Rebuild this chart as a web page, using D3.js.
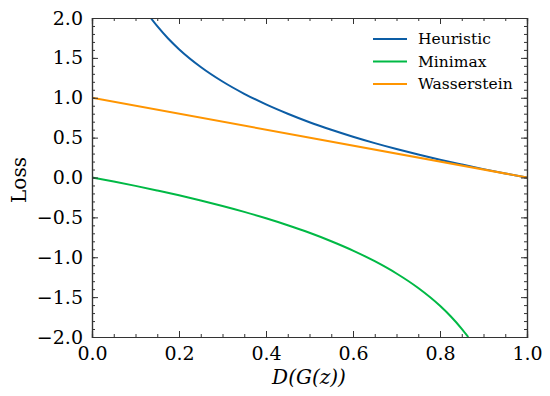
<!DOCTYPE html>
<html>
<head>
<meta charset="utf-8">
<script src="https://cdn.jsdelivr.net/npm/d3@7"></script>
<style>
  body { margin: 0; background: #fff; }
  text { font-family: "DejaVu Serif", serif; fill: #000; }
</style>
</head>
<body>
<div id="chart"></div>
<script>
// values
var heurX = [0.135, 0.15, 0.175, 0.2, 0.25, 0.3, 0.35, 0.4, 0.45, 0.5, 0.55, 0.6, 0.65, 0.7, 0.75, 0.8, 0.85, 0.9, 0.95, 1.0];
var heurY = [2.0, 1.897, 1.743, 1.609, 1.386, 1.204, 1.050, 0.916, 0.799, 0.693, 0.598, 0.511, 0.431, 0.357, 0.288, 0.223, 0.163, 0.105, 0.051, 0.0];
var miniX = [0.0, 0.05, 0.1, 0.15, 0.2, 0.25, 0.3, 0.35, 0.4, 0.45, 0.5, 0.55, 0.6, 0.65, 0.7, 0.75, 0.8, 0.825, 0.85, 0.865];
var miniY = [0.0, -0.051, -0.105, -0.163, -0.223, -0.288, -0.357, -0.431, -0.511, -0.598, -0.693, -0.799, -0.916, -1.050, -1.204, -1.386, -1.609, -1.743, -1.897, -2.0];
var wassX = [0.0, 1.0];
var wassY = [1.0, 0.0];
var xTicks = [0.0, 0.2, 0.4, 0.6, 0.8, 1.0];
var yTicks = [-2.0, -1.5, -1.0, -0.5, 0.0, 0.5, 1.0, 1.5, 2.0];
var seriesNames = ["Heuristic", "Minimax", "Wasserstein"];
var seriesColors = ["#0C5DA5", "#00B945", "#FF9500"];

var W = 550, H = 396;
var m = {left: 92, top: 18, right: 23, bottom: 59};
var w = W - m.left - m.right, h = H - m.top - m.bottom;

var svg = d3.select("#chart").append("svg").attr("width", W).attr("height", H);
var g = svg.append("g").attr("transform", "translate(" + m.left + "," + m.top + ")");

var x = d3.scaleLinear().domain([0, 1]).range([0, w]);
var y = d3.scaleLinear().domain([-2, 2]).range([h, 0]);

g.append("clipPath").attr("id", "clip").append("rect").attr("width", w).attr("height", h);

var data = [
  d3.zip(heurX, heurY),
  d3.zip(miniX, miniY),
  d3.zip(wassX, wassY)
];
var line = d3.line().x(function (d) { return x(d[0]); }).y(function (d) { return y(d[1]); }).curve(d3.curveMonotoneX);

g.append("g").attr("clip-path", "url(#clip)").selectAll("path").data(data).enter().append("path")
  .attr("d", line).attr("fill", "none")
  .attr("stroke", function (d, i) { return seriesColors[i]; })
  .attr("stroke-width", 2);

// axes with inward ticks on all sides
function fmt(v) { return d3.format(".1f")(v).replace("-", "\u2212"); }
var xMinor = d3.range(0, 1.0001, 0.05), yMinor = d3.range(-2, 2.0001, 0.1);

g.append("g").attr("transform", "translate(0," + h + ")")
  .call(d3.axisBottom(x).tickValues(xTicks).tickSize(-6).tickPadding(10).tickFormat(fmt));
g.append("g").call(d3.axisTop(x).tickValues(xTicks).tickSize(-6).tickFormat(""));
g.append("g").call(d3.axisLeft(y).tickValues(yTicks).tickSize(-6).tickPadding(9).tickFormat(fmt));
g.append("g").attr("transform", "translate(" + w + ",0)")
  .call(d3.axisRight(y).tickValues(yTicks).tickSize(-6).tickFormat(""));

g.append("g").attr("transform", "translate(0," + h + ")").call(d3.axisBottom(x).tickValues(xMinor).tickSize(-3).tickFormat(""));
g.append("g").call(d3.axisTop(x).tickValues(xMinor).tickSize(-3).tickFormat(""));
g.append("g").call(d3.axisLeft(y).tickValues(yMinor).tickSize(-3).tickFormat(""));
g.append("g").attr("transform", "translate(" + w + ",0)").call(d3.axisRight(y).tickValues(yMinor).tickSize(-3).tickFormat(""));

g.selectAll(".domain").attr("stroke", "#333").attr("stroke-width", 1.2);
g.selectAll(".tick line").attr("stroke", "#333").attr("stroke-width", 1);
g.selectAll(".tick text").style("font-family", "DejaVu Serif").style("font-size", "19px").attr("fill", "#000");

svg.append("text").attr("x", 309).attr("y", 384).attr("text-anchor", "middle")
  .style("font-size", "20px").style("font-style", "italic").text("D(G(z))");
svg.append("text").attr("transform", "translate(25.5,180) rotate(-90)")
  .attr("text-anchor", "middle").style("font-size", "20px").text("Loss");

// legend
var lg = svg.append("g");
seriesNames.forEach(function (name, i) {
  var yy = 39 + i * 22.5;
  lg.append("line").attr("x1", 373).attr("x2", 407).attr("y1", yy).attr("y2", yy)
    .attr("stroke", seriesColors[i]).attr("stroke-width", 2);
  lg.append("text").attr("x", 418).attr("y", yy + 5).style("font-size", "15.5px").text(name);
});
</script>
</body>
</html>
